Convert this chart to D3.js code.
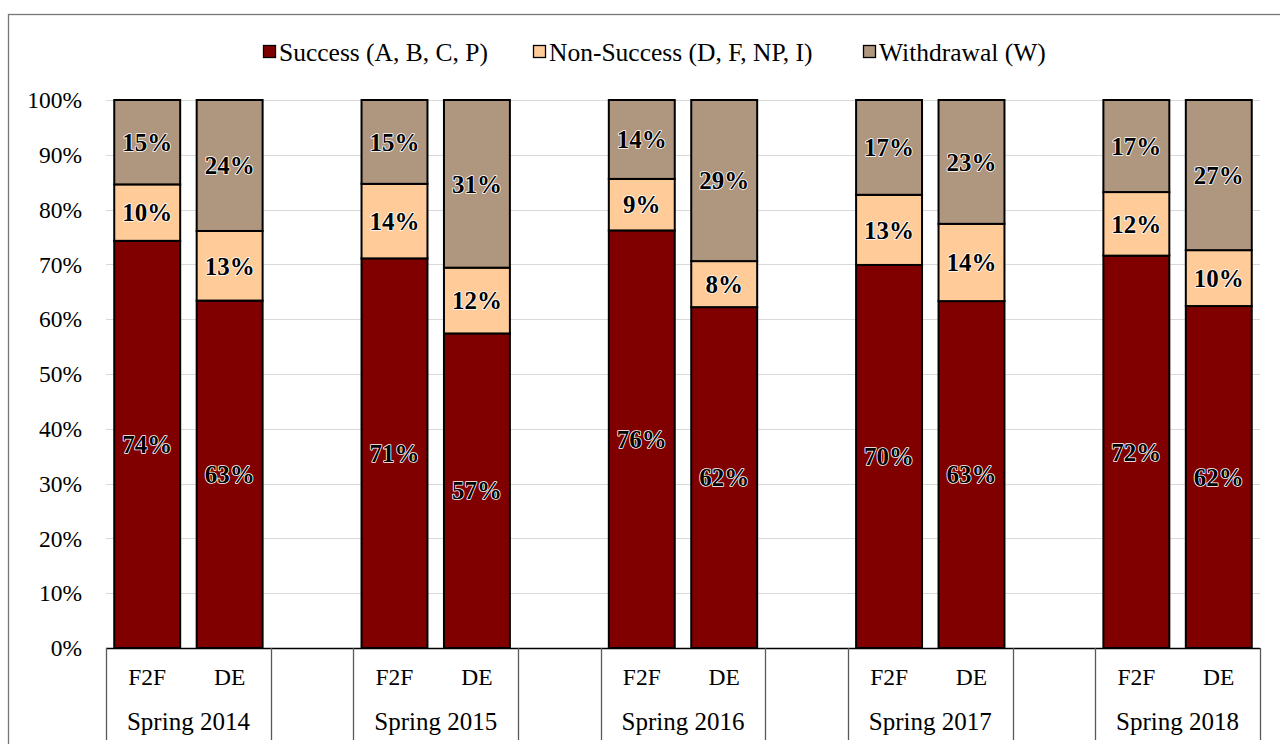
<!DOCTYPE html>
<html>
<head>
<meta charset="utf-8">
<script src="https://cdn.jsdelivr.net/npm/d3@7"></script>
<style>
  html, body { margin: 0; padding: 0; background: #fff; }
  svg { display: block; font-family: "Liberation Serif", "Times New Roman", serif; }
</style>
</head>
<body>
<svg id="chart" width="1280" height="744"></svg>
<script>
// ---- data ----
const years = ["Spring 2014", "Spring 2015", "Spring 2016", "Spring 2017", "Spring 2018"];
const modes = ["F2F", "DE"];
const seriesNames = ["Success (A, B, C, P)", "Non-Success (D, F, NP, I)", "Withdrawal (W)"];
const seriesColors = ["#800000", "#ffcc99", "#af967e"];
// values in percent, for each year
const successF2F = [74.3, 71.1, 76.2, 69.9, 71.6];
const successDE  = [63.4, 57.4, 62.2, 63.3, 62.4];
const nonSuccF2F = [10.3, 13.6, 9.4, 12.8, 11.6];
const nonSuccDE  = [12.7, 12.0, 8.4, 14.1, 10.2];
const withdrF2F  = [15.4, 15.3, 14.4, 17.3, 16.8];
const withdrDE   = [23.9, 30.6, 29.4, 22.6, 27.4];
const yTicks = [0, 10, 20, 30, 40, 50, 60, 70, 80, 90, 100];

(function () {
const rows = [];
years.forEach((yr, i) => {
  rows.push({ key: yr + "|F2F", year: yr, mode: "F2F", s: successF2F[i], n: nonSuccF2F[i], w: withdrF2F[i] });
  rows.push({ key: yr + "|DE", year: yr, mode: "DE", s: successDE[i], n: nonSuccDE[i], w: withdrDE[i] });
  if (i < years.length - 1) rows.push({ key: yr + "|gap", year: yr, mode: null });
});
const domain = rows.map(r => r.key);

const svg = d3.select("#chart");
const pLeft = 106, pRight = 1260, pTop = 100, pBottom = 648;

const x = d3.scaleBand().domain(domain).range([pLeft, pRight]).paddingInner(0.2).paddingOuter(0.1);
const y = d3.scaleLinear().domain([0, 100]).range([pBottom, pTop]);

// outer border
svg.append("rect").attr("x", 8.5).attr("y", 14.5).attr("width", 1290).attr("height", 760)
  .attr("fill", "none").attr("stroke", "#767676").attr("stroke-width", 1.3);

// gridlines
svg.append("g").selectAll("line").data(yTicks.filter(d => d > 0)).join("line")
  .attr("x1", pLeft).attr("x2", pRight)
  .attr("y1", d => Math.round(y(d)) + 0.5).attr("y2", d => Math.round(y(d)) + 0.5)
  .attr("stroke", "#d9d9d9").attr("stroke-width", 1);

// y tick labels
svg.append("g").selectAll("text").data(yTicks).join("text")
  .attr("x", 82).attr("y", d => y(d)).attr("dy", "0.35em")
  .attr("text-anchor", "end").attr("font-size", 23.5).attr("fill", "#000")
  .text(d => d + "%");

// stacks
const stack = d3.stack().keys(["s", "n", "w"]);
const dataRows = rows.filter(r => r.mode);
const stacked = stack(dataRows);

const gBars = svg.append("g");
stacked.forEach((layer, li) => {
  gBars.append("g").selectAll("rect").data(layer).join("rect")
    .attr("x", d => x(d.data.key))
    .attr("y", d => y(d[1]))
    .attr("width", x.bandwidth())
    .attr("height", d => y(d[0]) - y(d[1]))
    .attr("fill", seriesColors[li])
    .attr("stroke", "#000").attr("stroke-width", 2);
});

// data labels
stacked.forEach((layer, li) => {
  gBars.append("g").selectAll("text").data(layer).join("text")
    .attr("x", d => x(d.data.key) + x.bandwidth() / 2)
    .attr("y", d => (y(d[0]) + y(d[1])) / 2)
    .attr("dy", "0.35em")
    .attr("text-anchor", "middle")
    .attr("font-size", 25).attr("font-weight", "bold")
    .attr("fill", "#000").attr("stroke", "#fff").attr("stroke-width", 1.6)
    .attr("paint-order", "stroke").attr("stroke-linejoin", "round")
    .text(d => Math.round(d[1] - d[0]) + "%");
});

// x axis line
svg.append("line").attr("x1", pLeft).attr("x2", pRight).attr("y1", pBottom + 0.5).attr("y2", pBottom + 0.5)
  .attr("stroke", "#000").attr("stroke-width", 1.3);

// divider lines under the axis at group boundaries
const step = x.step();
const divs = [pLeft];
rows.forEach(r => {
  if (r.mode === "DE" || r.mode === null) divs.push(x(r.key) - x.paddingInner() * step / 2 + step);
});
divs[divs.length - 1] = pRight;
svg.append("g").selectAll("line").data(divs).join("line")
  .attr("x1", d => Math.round(d) + 0.5).attr("x2", d => Math.round(d) + 0.5)
  .attr("y1", pBottom).attr("y2", 740)
  .attr("stroke", "#595959").attr("stroke-width", 1.3);

// mode labels
svg.append("g").selectAll("text").data(dataRows).join("text")
  .attr("x", d => x(d.key) + x.bandwidth() / 2).attr("y", 677).attr("dy", "0.35em")
  .attr("text-anchor", "middle").attr("font-size", 23.5).attr("fill", "#000")
  .text(d => d.mode);

// year labels
svg.append("g").selectAll("text").data(years).join("text")
  .attr("x", yr => (x(yr + "|F2F") + x(yr + "|DE") + x.bandwidth()) / 2).attr("y", 721).attr("dy", "0.35em")
  .attr("text-anchor", "middle").attr("font-size", 25).attr("fill", "#000")
  .text(yr => yr);

// legend
const legendTextX = [279, 549, 879];
const lg = svg.append("g");
seriesNames.forEach((name, i) => {
  lg.append("rect").attr("x", legendTextX[i] - 15.5).attr("y", 45.5).attr("width", 12).attr("height", 12)
    .attr("fill", seriesColors[i]).attr("stroke", "#000").attr("stroke-width", 1.3);
  lg.append("text").attr("x", legendTextX[i]).attr("y", 52).attr("dy", "0.35em")
    .attr("font-size", 25.5).attr("fill", "#000").text(name);
});
})();
</script>
</body>
</html>
